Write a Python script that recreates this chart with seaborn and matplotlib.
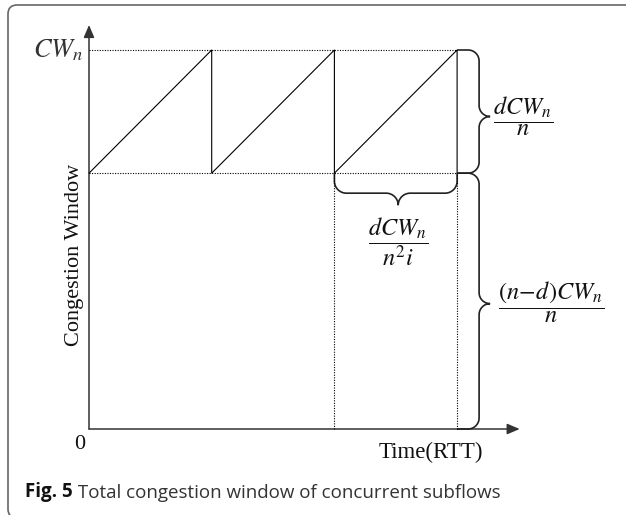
import numpy as np
import matplotlib
matplotlib.use("Agg")
import matplotlib.pyplot as plt
import seaborn as sns
import pandas as pd
from matplotlib.path import Path
from matplotlib.patches import PathPatch, FancyBboxPatch, FancyArrowPatch
from matplotlib.transforms import IdentityTransform

# ---------------- data ----------------
rtt_time = [0, 1, 1, 2, 2, 3, 3]
cwnd = [0.675, 1.0, 0.675, 1.0, 0.675, 1.0, 0.675]
cw_max = 1.0
cw_min = 0.675
t_end = 3
x_axis_end = 3.51
y_axis_end = 1.066

y_label = "Congestion Window"
x_label = "Time(RTT)"
origin_label = "0"
cw_label = r"$CW_n$"
lbl_upper = r"$\dfrac{dCW_n}{n}$"
lbl_lower = r"$\dfrac{(n\!-\!d)CW_n}{n}$"
lbl_period = r"$\dfrac{dCW_n}{n^2 i}$"
caption_bold = "Fig. 5"
caption_text = " Total congestion window of concurrent subflows"

# ---------------- style ----------------
sns.set_theme(style="white")
plt.rcParams["font.family"] = ["Liberation Serif", "DejaVu Serif"]
plt.rcParams["mathtext.fontset"] = "stix"

W, H = 626, 515
fig = plt.figure(figsize=(W / 100, H / 100), dpi=100)
ax = fig.add_axes([0, 0, 1, 1])
ax.set_axis_off()

# pixel layout: origin at (89, 429); 122.7 px per RTT; 379 px per CW_n
X0, Y0, SX, SY = 89.0, 429.0, 122.7, 379.0
ax.set_xlim((0 - X0) / SX, (W - X0) / SX)
ax.set_ylim((Y0 - H) / SY, Y0 / SY)


def px(xp, yp):
    return (xp - X0) / SX, (Y0 - yp) / SY


df = pd.DataFrame({"time": rtt_time, "cwnd": cwnd})
sns.lineplot(data=df, x="time", y="cwnd", sort=False, estimator=None,
             color="black", lw=0.8, ax=ax)

# dotted guide lines
dot = dict(color="black", lw=0.8, linestyle=(0, (1, 1.3)))
ax.plot([0, t_end], [cw_max, cw_max], **dot)
ax.plot([0, t_end], [cw_min, cw_min], **dot)
ax.plot([2, 2], [0, cw_min], **dot)
ax.plot([t_end, t_end], [0, cw_min], **dot)

# axes with arrows
axis_kw = dict(arrowstyle="-|>,head_length=0.75,head_width=0.32",
               mutation_scale=10, color="#333333", lw=1.1,
               shrinkA=0, shrinkB=0)
ax.add_patch(FancyArrowPatch((0, 0), (0, y_axis_end), **axis_kw))
ax.add_patch(FancyArrowPatch((0, 0), (x_axis_end, 0), **axis_kw))


def brace(p0, p1, out, h=22, r=11, tip=0.5, **kw):
    T = ax.transData
    a = T.transform(p0)
    b = T.transform(p1)
    d = b - a
    L = np.hypot(*d)
    u = d / L
    v = np.asarray(out, float)
    v = v / np.hypot(*v)
    k = 0.5523 * r
    m = tip * L
    loc = [(0, 0), (0, h - r),
           (0, h - r + k), (r - k, h), (r, h),
           (m - r, h),
           (m - r + k, h), (m, h + r - k), (m, h + r),
           (m, h + r - k), (m + r - k, h), (m + r, h),
           (L - r, h),
           (L - r + k, h), (L, h - r + k), (L, h - r),
           (L, 0)]
    codes = [Path.MOVETO, Path.LINETO,
             Path.CURVE4, Path.CURVE4, Path.CURVE4,
             Path.LINETO,
             Path.CURVE4, Path.CURVE4, Path.CURVE4,
             Path.CURVE4, Path.CURVE4, Path.CURVE4,
             Path.LINETO,
             Path.CURVE4, Path.CURVE4, Path.CURVE4,
             Path.LINETO]
    pts = np.array([a + s * u + t * v for s, t in loc])
    pts = T.inverted().transform(pts)
    ax.add_patch(PathPatch(Path(pts, codes), fill=False,
                           transform=T, **kw))


bkw = dict(color="#222222", lw=1.2)
brace((t_end, cw_max), (t_end, cw_min), (1, 0), tip=0.54, **bkw)
brace((t_end, cw_min), (t_end, 0), (1, 0), tip=0.51, **bkw)
brace((2, cw_min), (t_end, cw_min), (0, -1), h=20, r=12, tip=0.52, **bkw)

# texts
ax.text(*px(75, 255), y_label, rotation=90, ha="center", va="center",
        fontsize=16, color="#111111")
ax.text(*px(431, 458), x_label, ha="center", va="baseline",
        fontsize=16.5, color="#111111")
ax.text(*px(80, 449), origin_label, ha="center", va="baseline",
        fontsize=16, color="#111111")
ax.text(*px(33, 57), cw_label, ha="left", va="baseline",
        fontsize=19, color="#333333")
ax.text(*px(523, 116), lbl_upper, ha="center", va="center",
        fontsize=17.5, color="#111111")
ax.text(*px(551, 302), lbl_lower, ha="center", va="center",
        fontsize=17.5, color="#111111")
ax.text(*px(398, 242), lbl_period, ha="center", va="center",
        fontsize=17.5, color="#111111")

# outer rounded frame (bottom and right edges fall just outside the image)
frame = FancyBboxPatch((8, -3), 700, 510 + 3, transform=IdentityTransform(),
                       boxstyle="round,pad=0,rounding_size=9",
                       fill=False, edgecolor="#666666", lw=1.2)
fig.add_artist(frame)

# caption
t1 = fig.text(25 / W, (H - 497) / H, caption_bold, ha="left", va="baseline",
              fontsize=13.5, fontweight="bold", family=["Open Sans", "DejaVu Sans"],
              color="#111111")
ax.annotate(caption_text, xy=(1, 0), xycoords=t1, ha="left", va="bottom",
            fontsize=13.5, family=["Open Sans", "DejaVu Sans"], color="#333333")

fig.savefig("out.png", dpi=100)
